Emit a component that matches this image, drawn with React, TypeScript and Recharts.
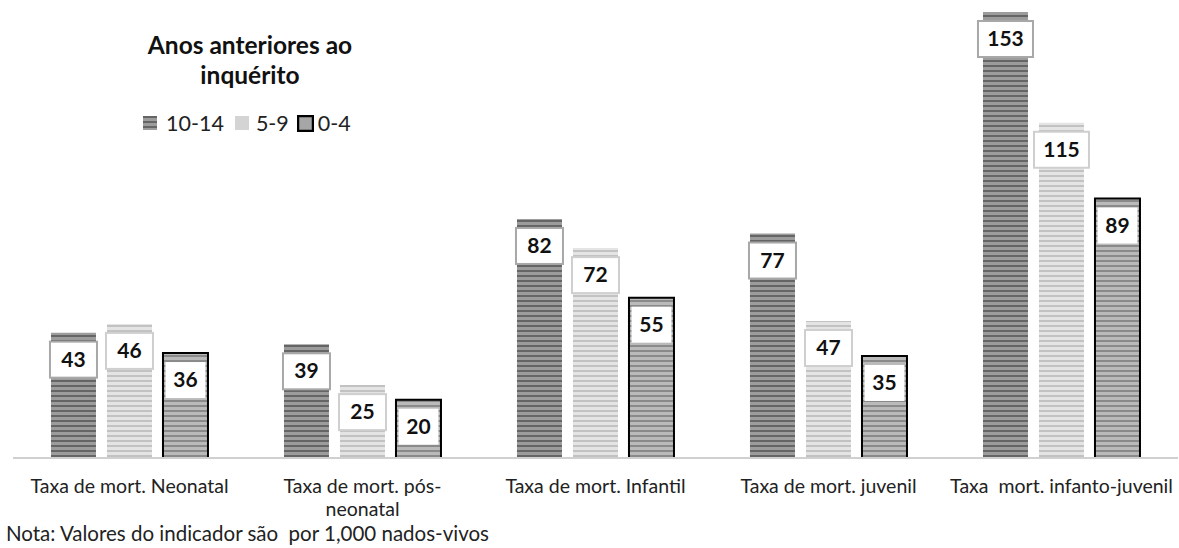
import React from "react";
import { Bar, BarChart, XAxis, YAxis } from "recharts";

const categories = [
  "Taxa de mort. Neonatal",
  "Taxa de mort. pós-\nneonatal",
  "Taxa de mort. Infantil",
  "Taxa de mort. juvenil",
  "Taxa  mort. infanto-juvenil",
];
const years10to14 = [43, 39, 82, 77, 153];
const years5to9 = [46, 25, 72, 47, 115];
const years0to4 = [36, 20, 55, 35, 89];

const data = categories.map((name, i) => ({
  name,
  a: years10to14[i],
  b: years5to9[i],
  c: years0to4[i],
}));

const FONT = "Lato, 'Open Sans', sans-serif";

function makeLabel(border: string) {
  return (props: any) => {
    const { x, y, width, value } = props;
    const w = border === "none" ? 40 : String(value).length > 2 ? 55 : 47;
    const cx = x + width / 2;
    return (
      <g>
        <rect
          x={cx - w / 2}
          y={y + 9}
          width={w}
          height={36}
          fill="#fff"
          stroke={border}
          strokeWidth={border === "none" ? 0 : 2}
        />
        <text
          x={cx}
          y={y + 34}
          textAnchor="middle"
          fontFamily={FONT}
          fontWeight={700}
          fontSize={21}
          fill="#111"
        >
          {value}
        </text>
      </g>
    );
  };
}

function Tick(props: any) {
  const { x, y, payload } = props;
  const lines = String(payload.value).split("\n");
  return (
    <text x={x} y={y + 27} textAnchor="middle" fontFamily={FONT} fontSize={19.5} fill="#222">
      {lines.map((l, i) => (
        <tspan key={i} x={x} dy={i === 0 ? 0 : 23} style={{ whiteSpace: "pre" }}>
          {l}
        </tspan>
      ))}
    </text>
  );
}

function Swatch({ fill, stroke, size }: { fill: string; stroke?: string; size: number }) {
  return (
    <svg width={size} height={size} style={{ display: "block" }}>
      <rect
        x={stroke ? 1 : 0}
        y={stroke ? 1 : 0}
        width={stroke ? size - 2 : size}
        height={stroke ? size - 2 : size}
        fill={fill}
        stroke={stroke || "none"}
        strokeWidth={stroke ? 2.5 : 0}
      />
    </svg>
  );
}

export default function App() {
  return (
    <div style={{ position: "relative", width: 1179, height: 548, background: "#fff", fontFamily: FONT }}>
      <style>{"body{margin:0}"}</style>
      <BarChart
        width={1179}
        height={548}
        data={data}
        margin={{ top: 12, right: 1, left: 13, bottom: 30 }}
        barCategoryGap="16.3%"
        barGap={11}
      >
        <defs>
          <pattern id="p1" patternUnits="userSpaceOnUse" width={6} height={5}>
            <rect width={6} height={5} fill="#9c9c9c" />
            <rect width={6} height={2} fill="#656565" />
          </pattern>
          <pattern id="p2" patternUnits="userSpaceOnUse" width={6} height={5}>
            <rect width={6} height={5} fill="#e4e4e4" />
            <rect width={6} height={2} fill="#c2c2c2" />
          </pattern>
          <pattern id="p3" patternUnits="userSpaceOnUse" width={6} height={5}>
            <rect width={6} height={5} fill="#bababa" />
            <rect width={6} height={2} fill="#8a8a8a" />
          </pattern>
        </defs>
        <XAxis
          dataKey="name"
          interval={0}
          height={60}
          tickLine={false}
          axisLine={{ stroke: "#d0d0d0", strokeWidth: 2 }}
          tick={<Tick />}
        />
        <YAxis hide width={0} domain={[0, 153]} />
        <Bar dataKey="a" fill="url(#p1)" isAnimationActive={false} label={makeLabel("#a8a8a8")} />
        <Bar dataKey="b" fill="url(#p2)" isAnimationActive={false} label={makeLabel("#cfcfcf")} />
        <Bar
          dataKey="c"
          fill="url(#p3)"
          stroke="#000"
          strokeWidth={2}
          isAnimationActive={false}
          label={makeLabel("none")}
        />
      </BarChart>
      <div
        style={{
          position: "absolute",
          left: 100,
          top: 30,
          width: 300,
          textAlign: "center",
          fontWeight: 700,
          fontSize: 24.5,
          lineHeight: "30px",
          color: "#111",
        }}
      >
        Anos anteriores ao
        <br />
        inquérito
      </div>
      <div
        style={{
          position: "absolute",
          left: 143,
          top: 109,
          height: 28,
          display: "flex",
          alignItems: "center",
          fontSize: 21.5,
          color: "#222",
          whiteSpace: "pre",
        }}
      >
        <Swatch fill="url(#p1)" size={14} />
        <span style={{ marginLeft: 9, marginRight: 11 }}>10-14</span>
        <Swatch fill="#d4d4d4" size={14} />
        <span style={{ marginLeft: 7, marginRight: 8 }}>5-9</span>
        <Swatch fill="#a6a6a6" stroke="#000" size={17} />
        <span style={{ marginLeft: 4 }}>0-4</span>
      </div>
      <div style={{ position: "absolute", left: 6, top: 521, fontSize: 20.5, color: "#222", whiteSpace: "pre" }}>
        Nota: Valores do indicador são  por 1,000 nados-vivos
      </div>
    </div>
  );
}
